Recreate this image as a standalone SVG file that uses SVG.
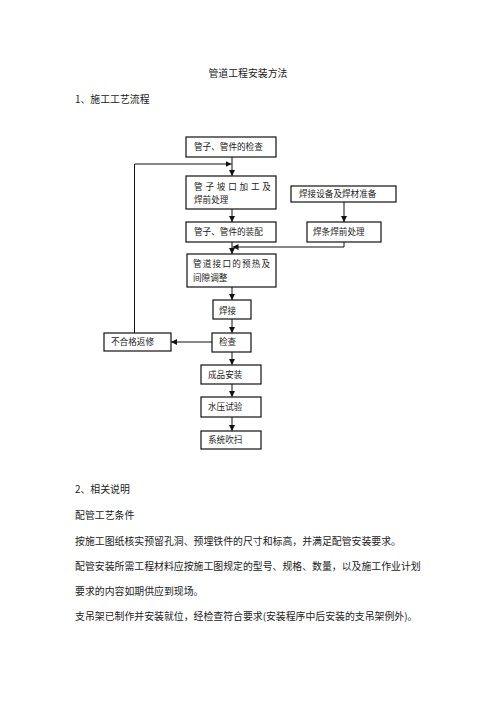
<svg xmlns="http://www.w3.org/2000/svg" width="496" height="702" viewBox="0 0 496 702">
<defs>
<marker id="ah" viewBox="0 0 10 10" refX="10" refY="5" markerWidth="6" markerHeight="6" markerUnits="userSpaceOnUse" orient="auto">
<path d="M0,0 L10,5 L0,10 z" fill="#111"/>
</marker>
<style>
text{font-family:"Noto Sans CJK SC","Noto Sans",sans-serif;fill:#222}
.t{font-size:9.9px}
.b{font-size:8.6px}
rect{fill:#fff;stroke:#111;stroke-width:1.2}
.c{fill:none;stroke:#111;stroke-width:1}
.a{marker-end:url(#ah)}
</style>
</defs>
<rect x="0" y="0" width="496" height="702" style="fill:#fff;stroke:none"/>
<text class="t" x="248" y="77" text-anchor="middle">管道工程安装方法</text>
<text class="t" x="75" y="103">1、施工工艺流程</text>

<g id="connectors">
<line class="c a" x1="232" y1="157" x2="232" y2="176"/>
<line class="c a" x1="232" y1="209" x2="232" y2="222"/>
<line class="c a" x1="232" y1="242" x2="232" y2="254"/>
<line class="c a" x1="232" y1="287" x2="232" y2="300"/>
<line class="c a" x1="232" y1="319" x2="232" y2="333"/>
<line class="c a" x1="232" y1="352" x2="232" y2="365"/>
<line class="c a" x1="232" y1="384" x2="232" y2="397"/>
<line class="c a" x1="232" y1="417" x2="232" y2="431"/>
<line class="c a" x1="344" y1="202" x2="344" y2="222"/>
<polyline class="c a" points="344,242 344,247 232.5,247"/>
<line class="c a" x1="212" y1="342" x2="171" y2="342"/>
<polyline class="c a" points="134.5,333 134.5,164 231.5,164"/>
</g>

<g id="n1"><rect x="186" y="137" width="90" height="20"/><text class="b" x="194" y="150">管子、管件的检查</text></g>
<g id="n2"><rect x="186" y="176" width="90" height="33"/><text class="b" x="194" y="190" style="letter-spacing:2.8px">管子坡口加工及</text><text class="b" x="194" y="203">焊前处理</text></g>
<g id="n3"><rect x="291" y="186" width="105" height="16"/><text class="b" x="299" y="197">焊接设备及焊材准备</text></g>
<g id="n4"><rect x="186" y="222" width="90" height="20"/><text class="b" x="194" y="235">管子、管件的装配</text></g>
<g id="n5"><rect x="307" y="222" width="74" height="20"/><text class="b" x="313" y="235">焊条焊前处理</text></g>
<g id="n6"><rect x="187" y="254" width="89" height="33"/><text class="b" x="193" y="267" style="letter-spacing:1.2px">管道接口的预热及</text><text class="b" x="193" y="281">间隙调整</text></g>
<g id="n7"><rect x="213" y="300" width="38" height="19"/><text class="b" x="219" y="314">焊接</text></g>
<g id="n8"><rect x="212" y="333" width="39" height="19"/><text class="b" x="219" y="345">检查</text></g>
<g id="n9"><rect x="104" y="333" width="67" height="18"/><text class="b" x="111" y="345">不合格返修</text></g>
<g id="n10"><rect x="201" y="365" width="60" height="19"/><text class="b" x="208" y="378">成品安装</text></g>
<g id="n11"><rect x="201" y="397" width="60" height="20"/><text class="b" x="208" y="410">水压试验</text></g>
<g id="n12"><rect x="201" y="431" width="60" height="18"/><text class="b" x="208" y="443">系统吹扫</text></g>

<text class="t" x="75" y="493">2、相关说明</text>
<text class="t" x="75" y="519">配管工艺条件</text>
<text class="t" x="75" y="545">按施工图纸核实预留孔洞、预埋铁件的尺寸和标高，并满足配管安装要求。</text>
<text class="t" x="75" y="570">配管安装所需工程材料应按施工图规定的型号、规格、数量，以及施工作业计划</text>
<text class="t" x="75" y="595">要求的内容如期供应到现场。</text>
<text class="t" x="75" y="620">支吊架已制作并安装就位，经检查符合要求(安装程序中后安装的支吊架例外)。</text>
</svg>
